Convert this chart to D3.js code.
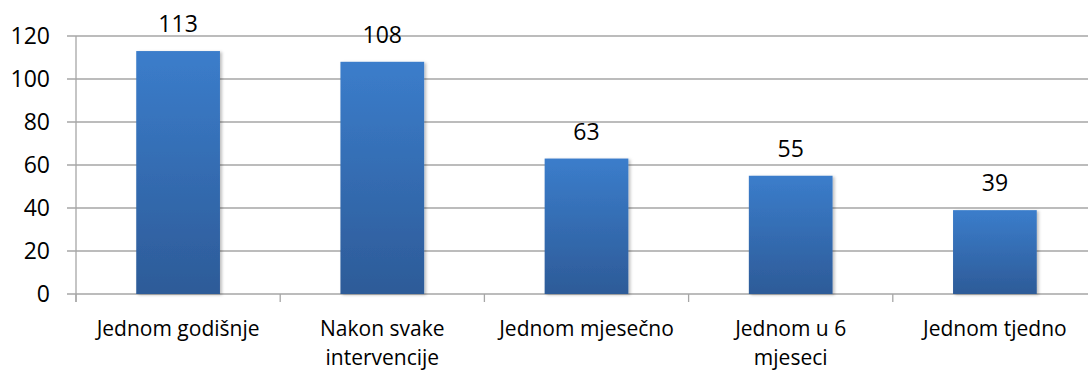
<!DOCTYPE html>
<html><head><meta charset="utf-8">
<script src="https://cdn.jsdelivr.net/npm/d3@7/dist/d3.min.js"></script>
<style>body{margin:0;background:#fff}svg{display:block}text{font-family:"Open Sans",sans-serif;fill:#000}</style>
</head><body><svg id="c" width="1088" height="372"></svg>
<script>
const categories = ["Jednom godišnje", "Nakon svake intervencije", "Jednom mjesečno", "Jednom u 6 mjeseci", "Jednom tjedno"];
const labelLines = [["Jednom godišnje"], ["Nakon svake", "intervencije"], ["Jednom mjesečno"], ["Jednom u 6", "mjeseci"], ["Jednom tjedno"]];
const values = [113, 108, 63, 55, 39];
const yTicks = [0, 20, 40, 60, 80, 100, 120];

const svg = d3.select("#c");
const mLeft = 76, mBottom = 294, mTop = 36, bandW = 204.2;
const x = d3.scaleBand().domain(categories).range([mLeft, mLeft + 5 * bandW]).paddingInner(0.59).paddingOuter(0.295);
const y = d3.scaleLinear().domain([0, 120]).range([mBottom, mTop]);

const defs = svg.append("defs");
const g = defs.append("linearGradient").attr("id", "bg").attr("x1", 0).attr("y1", 0).attr("x2", 0).attr("y2", 1);
g.append("stop").attr("offset", "0%").attr("stop-color", "#3b7dcb");
g.append("stop").attr("offset", "100%").attr("stop-color", "#2d5b98");
const f = defs.append("filter").attr("id", "sh").attr("x", "-10%").attr("y", "-10%").attr("width", "130%").attr("height", "130%");
f.append("feDropShadow").attr("dx", 2).attr("dy", 1).attr("stdDeviation", 1.5).attr("flood-color", "#000").attr("flood-opacity", 0.25);

svg.append("g").selectAll("line").data(yTicks).join("line")
  .attr("x1", mLeft - 9).attr("x2", 1088).attr("y1", d => y(d)).attr("y2", d => y(d))
  .attr("stroke", "#a6a6a6").attr("stroke-width", 1.3);

const ya = svg.append("g").attr("transform", `translate(${mLeft},0)`)
  .call(d3.axisLeft(y).tickValues(yTicks).tickSize(9).tickPadding(17));
ya.select(".domain").attr("stroke", "#a6a6a6").attr("stroke-width", 1.3).attr("d", `M0,${mTop}V${mBottom + 8}`);
ya.selectAll(".tick line").attr("stroke", "none");
ya.selectAll("text").attr("font-size", 23).attr("font-family", "Open Sans").attr("fill", "#000");

const bounds = d3.range(6).map(i => mLeft + i * bandW);
svg.append("g").selectAll("line").data(bounds).join("line")
  .attr("x1", d => d).attr("x2", d => d).attr("y1", mBottom).attr("y2", mBottom + 8)
  .attr("stroke", "#a6a6a6").attr("stroke-width", 1.3);

svg.append("g").selectAll("rect").data(values).join("rect")
  .attr("x", (d, i) => x(categories[i])).attr("width", x.bandwidth())
  .attr("y", d => y(d)).attr("height", d => mBottom - y(d))
  .attr("fill", "url(#bg)").attr("filter", "url(#sh)");

svg.append("g").selectAll("text").data(values).join("text")
  .attr("x", (d, i) => x(categories[i]) + x.bandwidth() / 2).attr("y", d => y(d) - 19)
  .attr("text-anchor", "middle").attr("font-size", 23).text(d => d);

const cl = svg.append("g").selectAll("text").data(labelLines).join("text")
  .attr("x", (d, i) => x(categories[i]) + x.bandwidth() / 2).attr("y", 336)
  .attr("text-anchor", "middle").attr("font-size", 21);
cl.selectAll("tspan").data(d => d).join("tspan")
  .attr("x", function () { return this.parentNode.getAttribute("x"); })
  .attr("dy", (d, i) => i ? 28.8 : 0).text(d => d);
</script></body></html>
